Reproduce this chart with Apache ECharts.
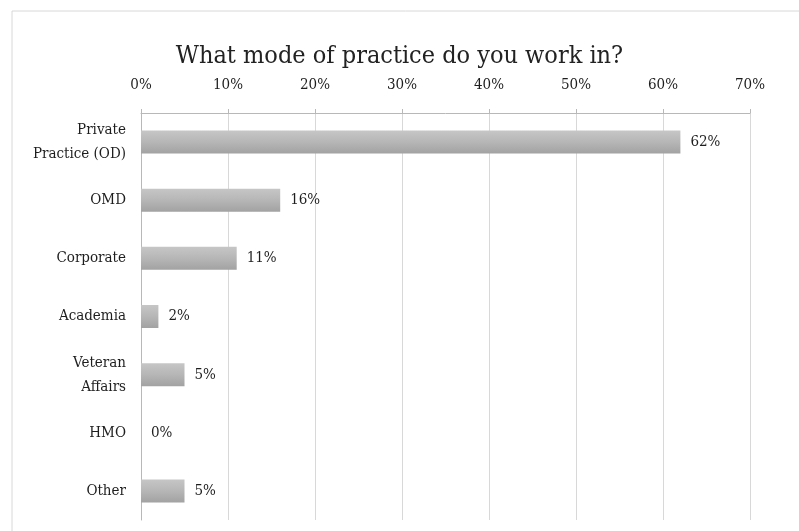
<!DOCTYPE html>
<html>
<head>
<meta charset="utf-8">
<style>
  html, body { margin: 0; padding: 0; background: #fff; }
  #chart { width: 799px; height: 531px; }
</style>
<script src="https://cdn.jsdelivr.net/npm/echarts@6/dist/echarts.min.js"></script>
</head>
<body>
<div id="chart"></div>
<script>
// Survey answers: mode of practice, share of respondents (%)
const categories = ['Private\nPractice (OD)', 'OMD', 'Corporate', 'Academia', 'Veteran\nAffairs', 'HMO', 'Other'];
const shares = [62, 16, 11, 2, 5, 0, 5];
const axisMax = 70;
const axisStep = 10;

const serif = "'DejaVu Serif Condensed', 'DejaVu Serif', serif";

const chart = echarts.init(document.getElementById('chart'), null, { renderer: 'canvas' });

chart.setOption({
  backgroundColor: '#ffffff',
  animation: false,
  title: {
    text: 'What mode of practice do you work in?',
    left: 'center',
    top: 39,
    textStyle: { fontFamily: serif, fontSize: 25, fontWeight: 'normal', color: '#222' }
  },
  graphic: [{
    type: 'polyline',
    shape: { points: [[12, 531], [12, 11], [799, 11]] },
    style: { stroke: '#d8d8d8', lineWidth: 1, fill: null },
    silent: true
  }],
  grid: { left: 141, right: 49, top: 113, bottom: 11, containLabel: false },
  xAxis: {
    type: 'value',
    position: 'top',
    min: 0,
    max: axisMax,
    interval: axisStep,
    axisLine: { show: true, lineStyle: { color: '#b8b8b8', width: 1 } },
    axisTick: { show: true, length: 4, lineStyle: { color: '#b8b8b8' } },
    splitLine: { show: true, lineStyle: { color: '#d8d8d8', width: 1 } },
    axisLabel: {
      formatter: '{value}%',
      margin: 20,
      fontFamily: serif,
      fontSize: 15,
      color: '#1e1e1e'
    }
  },
  yAxis: {
    type: 'category',
    inverse: true,
    data: categories,
    axisLine: { show: true, lineStyle: { color: '#b8b8b8', width: 1 } },
    axisTick: { show: false },
    axisLabel: {
      margin: 15,
      fontFamily: serif,
      fontSize: 15,
      lineHeight: 24,
      color: '#1e1e1e',
      align: 'right'
    }
  },
  series: [{
    type: 'bar',
    data: shares,
    barWidth: 23,
    itemStyle: {
      color: new echarts.graphic.LinearGradient(0, 0, 0, 1, [
        { offset: 0, color: '#c6c6c6' },
        { offset: 0.5, color: '#b6b6b6' },
        { offset: 1, color: '#a2a2a2' }
      ])
    },
    label: {
      show: true,
      position: 'right',
      distance: 10,
      formatter: '{c}%',
      fontFamily: serif,
      fontSize: 15,
      color: '#1e1e1e'
    }
  }]
});
</script>
</body>
</html>
